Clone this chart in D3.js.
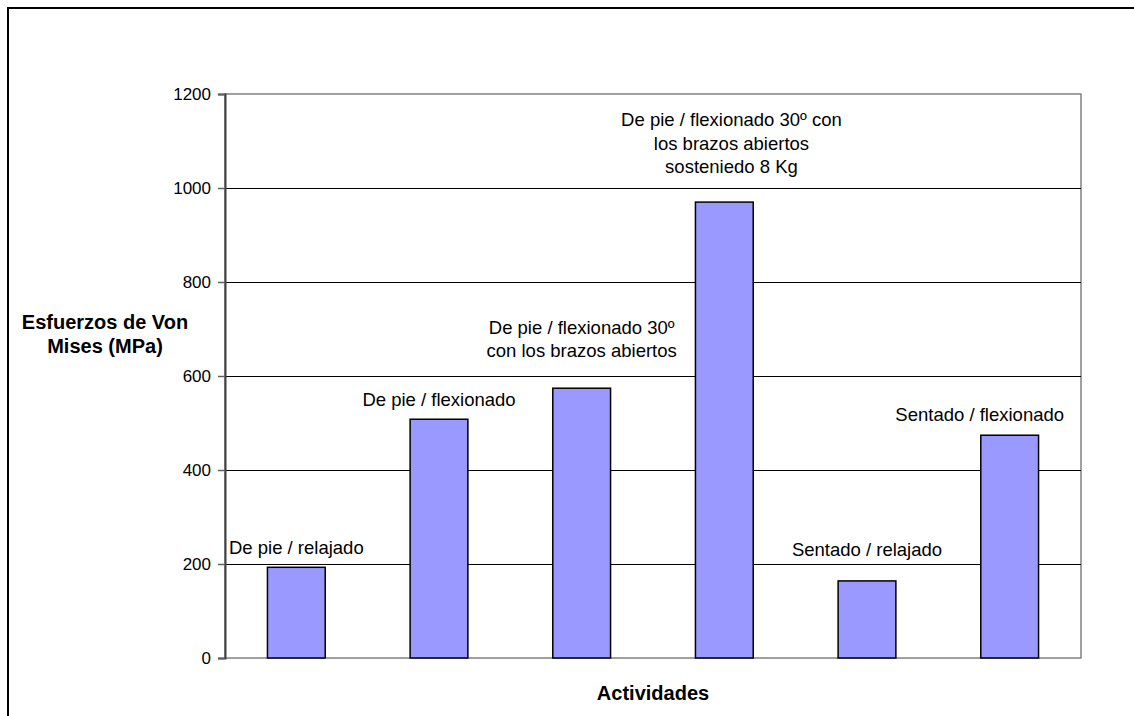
<!DOCTYPE html>
<html>
<head>
<meta charset="utf-8">
<script src="https://cdn.jsdelivr.net/npm/d3@7"></script>
<style>
  body { margin: 0; background: #fff; }
  text { font-family: "Liberation Sans", Arial, sans-serif; fill: #000; }
</style>
</head>
<body>
<div id="chart"></div>
<script>
// Données
var activities = [
    ["De pie / relajado"],
    ["De pie / flexionado"],
    ["De pie / flexionado 30º", "con los brazos abiertos"],
    ["De pie / flexionado 30º con", "los brazos abiertos", "sosteniedo 8 Kg"],
    ["Sentado / relajado"],
    ["Sentado / flexionado"]
];
var stress = [193, 508, 574, 970, 164, 474];
var yTicks = [0, 200, 400, 600, 800, 1000, 1200];

// placement des étiquettes (décalage en fraction de catégorie, écart en px au-dessus de la barre)
var labelShift = [0, 0, 0, 0.05, 0, -0.21];
var labelGap = [13, 13, 31, 29, 25, 14];

var W = 1134, H = 716;
var plot = {left: 225, top: 94, right: 1081, bottom: 658};

var svg = d3.select("#chart").append("svg")
    .attr("width", W)
    .attr("height", H);

// cadre extérieur
svg.append("rect")
    .attr("x", 8).attr("y", 8)
    .attr("width", W + 20).attr("height", H + 20)
    .attr("fill", "none")
    .attr("stroke", "#000")
    .attr("stroke-width", 2);

var x = d3.scaleBand()
    .domain(d3.range(activities.length))
    .range([plot.left, plot.right])
    .padding(0);

var y = d3.scaleLinear().domain([0, 1200]).range([plot.bottom, plot.top]);

// bordure de la zone de tracé
svg.append("rect")
    .attr("x", plot.left).attr("y", plot.top)
    .attr("width", plot.right - plot.left).attr("height", plot.bottom - plot.top)
    .attr("fill", "none")
    .attr("stroke", "#808080")
    .attr("stroke-width", 1.5);

// lignes de grille
svg.append("g")
    .selectAll("line")
    .data(yTicks.filter(function (d) { return d > 0 && d < 1200; }))
    .enter()
    .append("line")
    .attr("x1", plot.left).attr("x2", plot.right)
    .attr("y1", function (d) { return Math.round(y(d)) + 0.5; })
    .attr("y2", function (d) { return Math.round(y(d)) + 0.5; })
    .attr("stroke", "#000")
    .attr("stroke-width", 1);

// axe Y
var yAxis = svg.append("g")
    .attr("transform", "translate(" + plot.left + ",0)")
    .call(d3.axisLeft(y).tickValues(yTicks).tickFormat(d3.format("d")).tickSize(7).tickPadding(7));
yAxis.select(".domain").attr("stroke", "#404040").attr("stroke-width", 2);
yAxis.selectAll(".tick line").attr("stroke", "#606060").attr("stroke-width", 1.5);
yAxis.selectAll(".tick text")
    .style("font-family", "'Liberation Sans', Arial, sans-serif")
    .style("font-size", "17px")
    .attr("fill", "#000");

// barres
var barW = x.bandwidth() * 0.405;
svg.append("g")
    .selectAll("rect")
    .data(stress)
    .enter()
    .append("rect")
    .attr("x", function (d, i) { return x(i) + (x.bandwidth() - barW) / 2; })
    .attr("y", function (d) { return y(d); })
    .attr("width", barW)
    .attr("height", function (d) { return y(0) - y(d); })
    .attr("fill", "#9999FF")
    .attr("stroke", "#000")
    .attr("stroke-width", 1.5);

// étiquettes
var lineH = 23.5;
activities.forEach(function (lines, i) {
    var cx = x(i) + x.bandwidth() / 2 + labelShift[i] * x.bandwidth();
    var base = y(stress[i]) - labelGap[i];
    var t = svg.append("text")
        .attr("text-anchor", "middle")
        .style("font-size", "18.5px");
    lines.forEach(function (s, k) {
        t.append("tspan")
            .attr("x", cx)
            .attr("y", base - (lines.length - 1 - k) * lineH)
            .text(s);
    });
});

// titres des axes
var yTitle = svg.append("text")
    .attr("text-anchor", "middle")
    .style("font-size", "20px")
    .style("font-weight", "bold");
yTitle.append("tspan").attr("x", 105).attr("y", 329).text("Esfuerzos de Von");
yTitle.append("tspan").attr("x", 105).attr("y", 353).text("Mises (MPa)");

svg.append("text")
    .attr("x", (plot.left + plot.right) / 2)
    .attr("y", 700)
    .attr("text-anchor", "middle")
    .style("font-size", "20px")
    .style("font-weight", "bold")
    .text("Actividades");
</script>
</body>
</html>
